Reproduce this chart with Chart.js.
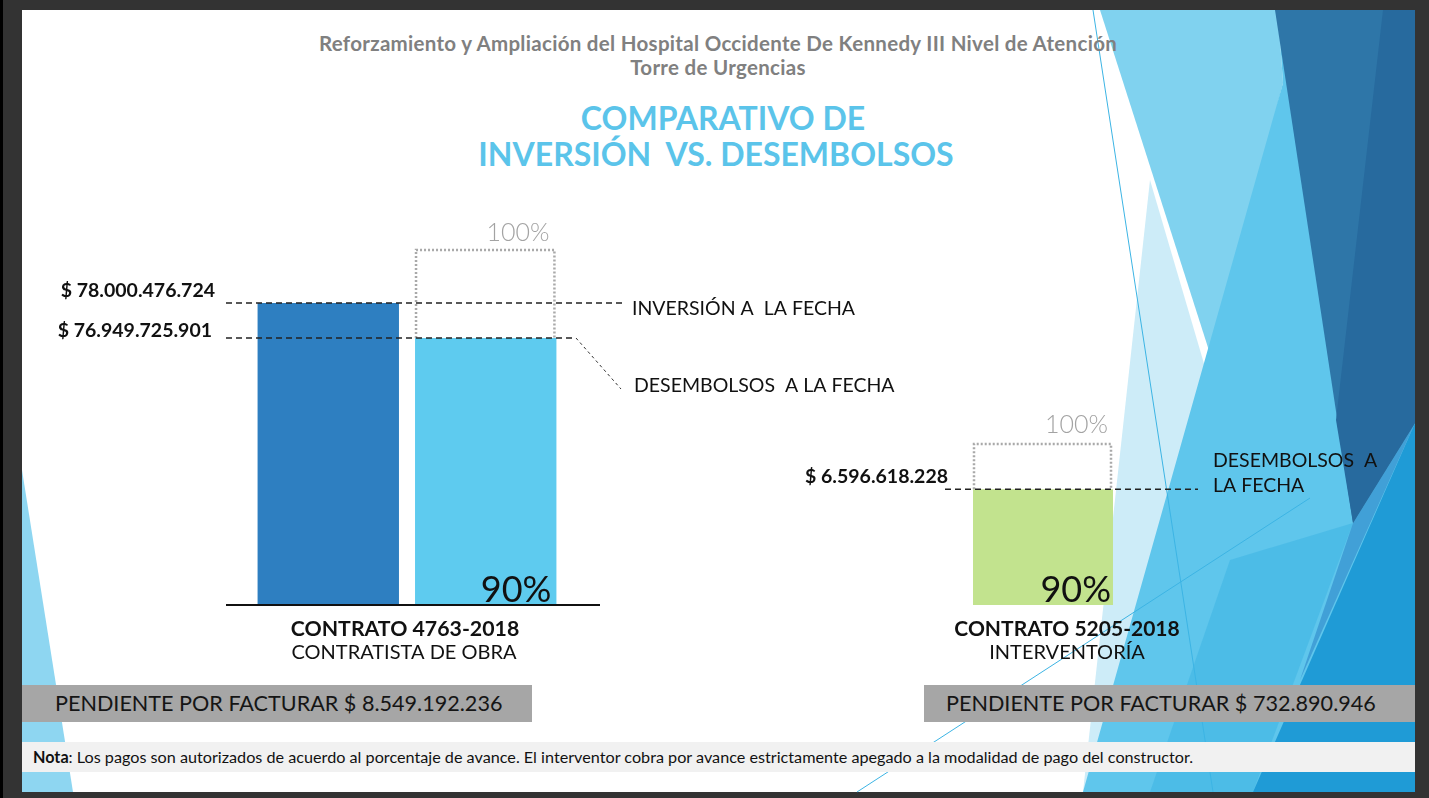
<!DOCTYPE html>
<html lang="es">
<head>
<meta charset="utf-8">
<title>Comparativo de inversión vs. desembolsos</title>
<script src="https://cdn.jsdelivr.net/npm/chart.js@4.4.1/dist/chart.umd.min.js"></script>
<style>
  html, body { margin: 0; padding: 0; }
  body { width: 1429px; height: 798px; background: #333; position: relative; overflow: hidden; font-family: Lato, "Open Sans", sans-serif; color: #111; }
  #borde { position: absolute; left: 0; top: 0; width: 3px; height: 798px; background: #000; }
  #slide { position: absolute; left: 22px; top: 10px; width: 1393px; height: 782px; background: #fff; }
  #fondo { position: absolute; left: 0; top: 0; }
  .txt { position: absolute; white-space: pre; }
  .titulo { left: 0; width: 1436px; text-align: center; color: #808080; font-weight: 700; font-size: 20.5px; letter-spacing: 0.3px; }
  .grande { left: 0; width: 1440px; text-align: center; color: #5bc4ea; font-weight: 700; font-size: 32px; }
  .caja { position: absolute; top: 685px; height: 37px; line-height: 37px; background: #a6a6a6; font-size: 21.6px; color: #151515; }
  #nota { position: absolute; left: 22px; top: 742px; width: 1393px; height: 30px; line-height: 30px; background: #f1f1f1; font-size: 16.2px; color: #111; }
  canvas { position: absolute; left: 0; top: 0; }
</style>
</head>
<body>
<div id="borde"></div>
<div id="slide"></div>
<svg id="fondo" width="1429" height="798" viewBox="0 0 1429 798">
  <polygon points="22,470 73,792 22,792" fill="#8ed6f1"/>
  <polygon points="1150,180 1330,792 1083,792" fill="#cdecf8"/>
  <polygon points="1100,10 1278,10 1283,83 1212,360" fill="#80d2ef"/>
  <polygon points="1278,10 1415,10 1415,792 1083,792 1283,83" fill="#5fc6ec"/>
  <polygon points="1230,560 1353,523 1253,792 1150,792" fill="#45b8e6" opacity="0.7"/>
  <polygon points="1415,423 1415,792 1253,792" fill="#1f9bd6"/>
  <polygon points="1353,523 1415,423 1300,680" fill="#3a96d2" opacity="0.8"/>
  <polygon points="1275,10 1415,10 1415,423 1353,523" fill="#2e76a8"/>
  <polygon points="1383,10 1415,10 1415,423 1353,523 1336,420" fill="#276a9e"/>
  <line x1="1093" y1="10" x2="1213" y2="792" stroke="#3cb4e4" stroke-width="1"/>
  <line x1="857" y1="792" x2="1310" y2="498" stroke="#3cb4e4" stroke-width="1"/>
</svg>

<div class="txt titulo" style="top:31px">Reforzamiento y Ampliación del Hospital Occidente De Kennedy III Nivel de Atención</div>
<div class="txt titulo" style="top:55px">Torre de Urgencias</div>
<div class="txt grande" style="top:98px;width:1446px">COMPARATIVO DE</div>
<div class="txt grande" style="top:134px;width:1432px">INVERSIÓN  VS. DESEMBOLSOS</div>

<div class="caja" id="caja1" style="left:22px;width:510px;text-indent:33px"></div>
<div class="caja" id="caja2" style="left:924px;width:491px;text-indent:22px"></div>
<div id="nota"><span style="padding-left:11px"><b>Nota</b>: Los pagos son autorizados de acuerdo al porcentaje de avance. El interventor cobra por avance estrictamente apegado a la modalidad de pago del constructor.</span></div>

<canvas id="obra" width="1429" height="798"></canvas>
<canvas id="interventoria" width="1429" height="798"></canvas>

<script>
const contratos = ['CONTRATO 4763-2018', 'CONTRATO 5205-2018']
const tiposContrato = ['CONTRATISTA DE OBRA', 'INTERVENTORÍA']
const inversionFecha = [78000476724]
const desembolsosFecha = [76949725901, 6596618228]
const pendientePorFacturar = [8549192236, 732890946]
const avance = ['90%', '90%']
const total = '100%'

const fuente = 'Lato, "Open Sans", sans-serif'

const pesos = (n) => '$ ' + String(n).replace(/\B(?=(\d{3})+(?!\d))/g, '.')

document.getElementById('caja1').textContent = 'PENDIENTE POR FACTURAR ' + pesos(pendientePorFacturar[0])
document.getElementById('caja2').textContent = 'PENDIENTE POR FACTURAR ' + pesos(pendientePorFacturar[1])

const linea = (ctx, pts, dash, width, color) => {
  ctx.save()
  ctx.beginPath()
  ctx.setLineDash(dash)
  ctx.lineWidth = width
  ctx.strokeStyle = color
  ctx.moveTo(pts[0][0], pts[0][1])
  for (let i = 1; i < pts.length; i++) ctx.lineTo(pts[i][0], pts[i][1])
  ctx.stroke()
  ctx.restore()
}

const texto = (ctx, t, x, y, font, color, align) => {
  ctx.save()
  ctx.font = font
  ctx.fillStyle = color
  ctx.textAlign = align || 'left'
  ctx.textBaseline = 'alphabetic'
  ctx.fillText(t, x, y)
  ctx.restore()
}

// caja punteada del 100% sobre la barra
const cajaTotal = (ctx, bar, top) => {
  const l = bar.x - bar.width / 2 + 1
  const r = bar.x + bar.width / 2 - 2
  linea(ctx, [[l, bar.y], [l, top], [r, top], [r, bar.y]], [2, 2], 2.5, '#a9a9a9')
}

const anotacionesObra = {
  id: 'anotacionesObra',
  afterDatasetsDraw(chart) {
    const ctx = chart.ctx
    const y = chart.scales.y
    const bDes = chart.getDatasetMeta(1).data[0]
    const yInv = y.getPixelForValue(inversionFecha[0])
    const yDes = y.getPixelForValue(desembolsosFecha[0])
    const top = y.getPixelForValue(y.max)
    const base = y.getPixelForValue(y.min)

    cajaTotal(ctx, bDes, top)
    linea(ctx, [[226, base], [600, base]], [], 2, '#111')
    linea(ctx, [[226, yInv], [625, yInv]], [6, 4], 1.5, '#222')
    linea(ctx, [[226, yDes], [575, yDes]], [6, 4], 1.5, '#222')
    linea(ctx, [[576, yDes], [621, yDes + 51]], [3, 3], 1, '#333')

    texto(ctx, pesos(inversionFecha[0]), 215, yInv - 6, 'bold 19.5px ' + fuente, '#111', 'right')
    texto(ctx, pesos(desembolsosFecha[0]), 212, yDes - 1, 'bold 19.5px ' + fuente, '#111', 'right')
    texto(ctx, chart.data.datasets[0].label, 632, yInv + 12, '19.5px ' + fuente, '#111')
    texto(ctx, chart.data.datasets[1].label, 634, yDes + 54, '19.5px ' + fuente, '#111')

    const rDes = bDes.x + bDes.width / 2
    texto(ctx, total, rDes - 7, top - 9, '300 25px ' + fuente, '#a3a3a3', 'right')
    texto(ctx, avance[0], rDes - 5, base - 3, '36px ' + fuente, '#111', 'right')

    texto(ctx, contratos[0], 405, 636, 'bold 21.3px ' + fuente, '#111', 'center')
    texto(ctx, tiposContrato[0], 404, 659, '20px ' + fuente, '#111', 'center')
  }
}

const anotacionesInterventoria = {
  id: 'anotacionesInterventoria',
  afterDatasetsDraw(chart) {
    const ctx = chart.ctx
    const y = chart.scales.y
    const bDes = chart.getDatasetMeta(0).data[0]
    const yDes = y.getPixelForValue(desembolsosFecha[1])
    const top = y.getPixelForValue(y.max)
    const base = y.getPixelForValue(y.min)

    cajaTotal(ctx, bDes, top)
    linea(ctx, [[945, yDes], [1198, yDes]], [6, 4], 1.5, '#222')

    texto(ctx, pesos(desembolsosFecha[1]), 948, yDes - 6, 'bold 19.5px ' + fuente, '#111', 'right')
    texto(ctx, 'DESEMBOLSOS  A', 1213, yDes - 22, '19.5px ' + fuente, '#111')
    texto(ctx, 'LA FECHA', 1213, yDes + 3, '19.5px ' + fuente, '#111')

    const r = bDes.x + bDes.width / 2
    texto(ctx, total, r - 5, top - 11, '300 25px ' + fuente, '#a3a3a3', 'right')
    texto(ctx, avance[1], r - 2, base - 3, '36px ' + fuente, '#111', 'right')

    texto(ctx, contratos[1], 1067, 636, 'bold 21px ' + fuente, '#111', 'center')
    texto(ctx, tiposContrato[1], 1067, 659, '20px ' + fuente, '#111', 'center')
  }
}

const opcionesBase = (padding, min, max, catPct, barPct) => ({
  responsive: false,
  animation: false,
  events: [],
  layout: { padding: padding },
  datasets: { bar: { categoryPercentage: catPct, barPercentage: barPct } },
  scales: {
    x: { display: false },
    y: { display: false, min: min, max: max }
  },
  plugins: { legend: { display: false }, tooltip: { enabled: false } }
})

// contrato de obra: inversion y desembolsos lado a lado
new Chart(document.getElementById('obra'), {
  type: 'bar',
  data: {
    labels: [contratos[0]],
    datasets: [
      { label: 'INVERSIÓN A  LA FECHA', data: inversionFecha, backgroundColor: '#2e7fc1' },
      { label: 'DESEMBOLSOS  A LA FECHA', data: [desembolsosFecha[0]], backgroundColor: '#5ecbef' }
    ]
  },
  options: opcionesBase({ left: 220, right: 835, top: 250, bottom: 193 }, 68934000000, 79592000000, 0.842, 0.898),
  plugins: [anotacionesObra]
})

// interventoria: solo desembolsos
new Chart(document.getElementById('interventoria'), {
  type: 'bar',
  data: {
    labels: [contratos[1]],
    datasets: [
      { label: 'DESEMBOLSOS A LA FECHA', data: [desembolsosFecha[1]], backgroundColor: '#c2e38e' }
    ]
  },
  options: opcionesBase({ left: 943, right: 286, top: 444, bottom: 193 }, 0, 9178000000, 0.7, 1),
  plugins: [anotacionesInterventoria]
})
</script>
</body>
</html>
